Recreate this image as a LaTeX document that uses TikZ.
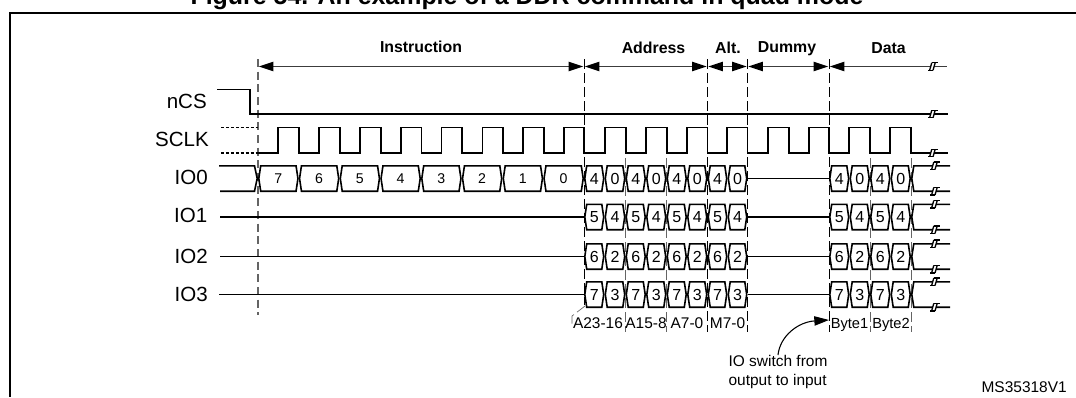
\documentclass[tikz,border=0pt]{standalone}
\usepackage{fontspec}
\setmainfont{Liberation Sans}
\usetikzlibrary{arrows.meta}
\definecolor{spangray}{RGB}{60,60,60}
\definecolor{tickgray}{RGB}{100,100,100}
\tikzset{
	sig/.style={line width=1.2pt,black},
	spanline/.style={line width=0.9pt,spangray,{Triangle[length=11pt,width=7pt,fill=black,color=black]}-{Triangle[length=11pt,width=7pt,fill=black,color=black]},shorten <=0.6pt,shorten >=0.6pt},
	edgeline/.style={line width=0.7pt,black,dash pattern=on 7.5pt off 3pt},
	tickline/.style={line width=0.6pt,tickgray,dash pattern=on 7.5pt off 3pt},
	signame/.style={font=\fontsize{15.4}{17}\selectfont,anchor=east,inner sep=0pt},
	head/.style={font=\fontsize{11.9}{14}\selectfont\bfseries,inner sep=0pt},
	note/.style={font=\fontsize{11.6}{14.25}\selectfont,inner sep=0pt},
	nibble/.style={font=\fontsize{12}{14}\selectfont,inner sep=0pt},
	opcode/.style={font=\fontsize{10.6}{12}\selectfont,inner sep=0pt}
}
% one bus cell: name, left, right, middle y, style, text
\newcommand{\buscell}[6]{
	\draw[sig,fill=white] (#2+0.8,#4) -- (#2+2.7,#4-12.7) -- (#3-2.7,#4-12.7) -- (#3-0.8,#4)
		-- (#3-2.7,#4+12.7) -- (#2+2.7,#4+12.7) -- cycle;
	\node[#5] (#1) at ({(#2+#3)/2},#4) {#6};
}
% break mark on a line
\newcommand{\cutmark}[2]{
	\fill[white] (#1-2,#2-2) rectangle (#1+1.2,#2+2);
	\draw[line width=1pt] (#1-5,#2+3.8) -- (#1,#2+3.8);
	\draw[line width=1pt] (#1-1.2,#2-3.8) -- (#1+5,#2-3.8);
	\draw[line width=1pt] (#1-3.4,#2+3.8) -- (#1-1.2,#2-3.8);
	\draw[line width=1pt] (#1,#2+3.8) -- (#1+2.2,#2-3.8);
}
% tail of a bus after the last cell
\newcommand{\bustail}[1]{
	\draw[sig] (950,#1-12.7) -- (913.8,#1-12.7) -- (911.8,#1) -- (913.8,#1+12.7) -- (950,#1+12.7);
	\cutmark{935}{#1-12.7}
	\cutmark{935}{#1+12.7}
}
\begin{document}
\begin{tikzpicture}[x=0.75pt,y=-0.75pt]
	\useasboundingbox (0,0) rectangle (1076,397);
	\draw[line width=1.5pt] (1076,13) -- (10,13) -- (10,397);
	\node[font=\fontsize{18.7}{20}\selectfont\bfseries,anchor=base,inner sep=0pt] (title) at (527,4.5) {Figure 54. An example of a DDR command in quad mode};

	% time marks
	\draw[line width=0.9pt,tickgray,dash pattern=on 6pt off 3.5pt] (258,59) -- (258,315);
	\foreach \x/\yend in {584/305,707.5/332,747.5/332,829/332}
		\draw[edgeline] (\x,59) -- (\x,\yend);
	\foreach \x in {625.7,666.7,870,911}
		\draw[tickline] (\x,158) -- (\x,332);

	% spans
	\coordinate (tInst) at (258,66.5);
	\coordinate (tAddr) at (584,66.5);
	\coordinate (tAlt) at (707.5,66.5);
	\coordinate (tDummy) at (747.5,66.5);
	\coordinate (tData) at (829,66.5);
	\coordinate (tEnd) at (947,66.5);
	\draw[spanline] (tInst) -- (tAddr);
	\draw[spanline] (tAddr) -- (tAlt);
	\draw[spanline] (tAlt) -- (tDummy);
	\draw[spanline] (tDummy) -- (tData);
	\draw[line width=0.9pt,spangray,{Triangle[length=11pt,width=7pt,fill=black,color=black]}-,shorten <=0.6pt] (tData) -- (tEnd);
	\cutmark{933}{66.5}
	\node[head] (instr) at (421,47) {Instruction};
	\node[head] (addr) at (653.5,47.5) {Address};
	\node[head] (alt) at (728,48) {Alt.};
	\node[head] (dummy) at (787,48.5) {Dummy};
	\node[head] (data) at (888.5,48.5) {Data};

	% signal names
	\node[signame] (nCS) at (207,101.5) {nCS};
	\node[signame] (SCLK) at (209,139) {SCLK};
	\node[signame] (IOa) at (208,177.5) {IO0};
	\node[signame] (IOb) at (207.5,215) {IO1};
	\node[signame] (IOc) at (208,256) {IO2};
	\node[signame] (IOd) at (208,294) {IO3};

	% nCS and SCLK
	\draw[sig] (217,89.5) -- (250,89.5) -- (250,114) -- (948,114);
	\cutmark{933}{114}
	\draw[line width=1.1pt,dash pattern=on 2.2pt off 1.5pt] (221,127.5) -- (258,127.5);
	\draw[line width=1.1pt,dash pattern=on 2.2pt off 1.5pt] (221,153) -- (258,153);
	\draw[sig] (258,153)
		foreach \r/\f in {278/299,319/340,360/381,401/421.5,441.5/462,482.5/503,523/544,564/584,605/625.7,645.7/666.7,686.7/707.5,727/747.5,768/789,808.7/829,849/870,890/911}
		{ -- (\r,153) -- (\r,127.5) -- (\f,127.5) -- (\f,153) } -- (948,153);
	\cutmark{933}{153}

	% IO0 opcode
	\draw[sig] (219,165.8) -- (254.5,165.8) -- (257.2,178.5) -- (254.5,191.2) -- (220,191.2);
	\foreach \n [count=\i from 0] in {7,6,5,4,3,2,1,0}
		\buscell{op\i}{258+\i*40.75}{298.75+\i*40.75}{178.5}{opcode}{\n};
	% the other lines stay idle
	\draw[sig] (220,217) -- (584,217);
	\draw[sig] (220,256.5) -- (584,256.5);
	\draw[sig] (219,294.5) -- (584,294.5);

	% address, alternate and data nibbles
	\foreach \row/\y/\hi/\lo in {a/178.5/4/0,b/217/5/4,c/256.5/6/2,d/294.5/7/3}{
		\foreach \xa/\xb/\xc [count=\i] in {584/604.5/625.5,625.5/646/666.5,666.5/687/707.5,707.5/727.5/747.5,829/849.5/870,870/890.5/911}{
			\buscell{hi\row\i}{\xa}{\xb}{\y}{nibble}{\hi}
			\buscell{lo\row\i}{\xb}{\xc}{\y}{nibble}{\lo}
		}
		\draw[sig] (747.5,\y) -- (829,\y);
		\bustail{\y}
	}

	% field labels
	\draw[tickline,line width=0.5pt] (585,306) -- (572,316) -- (572,327);
	\node[note] (fa) at (598,323.5) {A23-16};
	\node[note] (fb) at (646,323.5) {A15-8};
	\node[note] (fc) at (687,323.5) {A7-0};
	\node[note] (fd) at (727.5,323.5) {M7-0};
	\node[note,font=\fontsize{11}{13}\selectfont] (ba) at (849.5,325) {Byte1};
	\node[note,font=\fontsize{11}{13}\selectfont] (bb) at (891,325) {Byte2};

	% turn-around note
	\node[note,align=left] (swnote) at (778,372) {IO switch from\\output to input};
	\coordinate (swend) at (829,320);
	\draw[line width=0.8pt,-{Triangle[length=11pt,width=7pt,fill=black,color=black]}] (swnote.north) .. controls (780,336) and (798,322) .. (swend);
	\node[note,anchor=east] (docid) at (1067,387) {MS35318V1};
\end{tikzpicture}
\end{document}
